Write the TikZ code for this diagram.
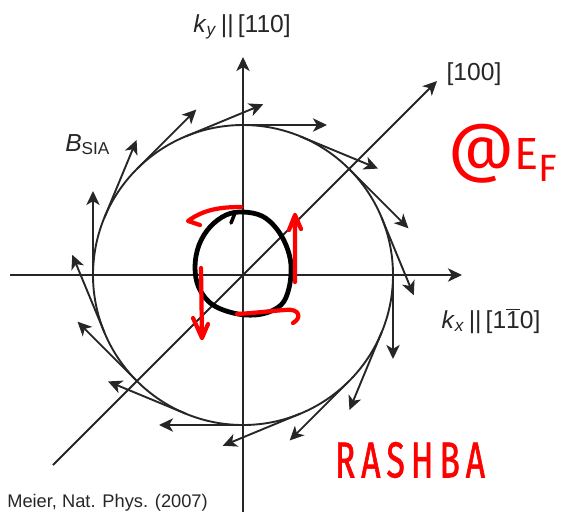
\documentclass[tikz,border=0pt]{standalone}
\usepackage{fontspec}
\setmainfont{Liberation Sans}
\newfontfamily\penfont{Fira Sans}
\usetikzlibrary{arrows.meta}
\definecolor{ink}{HTML}{262626}
\definecolor{pen}{HTML}{FF0000}

\begin{document}
\begin{tikzpicture}[x=0.025cm, y=-0.025cm,
  axis/.style={draw=ink, line width=1.35pt},
  vec/.style={draw=ink, line width=1.35pt, -{Stealth[length=10pt,width=9.5pt,inset=2.8pt]}},
  lbl/.style={text=ink, font=\fontsize{17.5}{19}\selectfont, inner sep=0pt},
  blob/.style={draw=black, line width=3.4pt, line cap=round},
  redpen/.style={draw=pen, line width=3pt, line cap=round, line join=round}]
  \useasboundingbox (0,0) rectangle (564,516);
  \coordinate (O) at (243,275);
  \coordinate (ybot) at (243,512);
  \coordinate (ytop) at (243,57);
  \coordinate (xleft) at (10,275);
  \coordinate (xright) at (462,275);
  \coordinate (dlow) at (53,465);
  \coordinate (dhigh) at (437,81);
  % axes and Fermi circle
  \draw[vec] (ybot) -- (ytop);
  \draw[vec] (xleft) -- (xright);
  \draw[vec] (dlow) -- (dhigh);
  \draw[axis] (O) circle[radius=150];
  % field vectors
  \begin{scope}[shift={(O)}, yscale=-1]
    \foreach \a in {0,22.5,...,337.5}
      \draw[vec] (\a:150) -- ++(\a-90:84);
  \end{scope}
  % labels
  \node[lbl, anchor=base] (kylbl) at (242,32) {\textit{k}\textsubscript{\textit{y}}\,||\,[110]};
  \node[lbl, anchor=base] (dlbl) at (474,80) {[100]};
  \node[lbl, anchor=base] (kxlbl) at (491,328) {\textit{k}\textsubscript{\textit{x}}\,||\,[1$\overline{\mbox{1}}$0]};
  \node[lbl, anchor=base west] (blbl) at (65,151) {\textit{B}\textsubscript{SIA}};
  \node[text=ink, font=\fontsize{13}{15}\selectfont, inner sep=0pt, anchor=base west] (ref) at (7,507) {Meier, Nat. Phys. (2007)};
  % hand drawn contour
  \draw[blob] plot[smooth cycle, tension=0.6] coordinates {(243,212) (262,216) (276,228) (286,245) (291,265) (289,288) (281,305) (262,314) (238,314) (213,305) (199,288) (195,267) (199,245) (210,227) (226,215)};
  \draw[blob, line width=2.5pt] (235,213) -- (231,223);
  \draw[redpen] (241,207) .. controls (222,207) and (204,209) .. (188,221) -- (200,225);
  \draw[redpen] (295,282) -- (295,215) (289,230) -- (295,215) -- (301,229);
  \draw[redpen] (237,314) .. controls (255,313) and (270,311) .. (285,310) .. controls (300,308) and (302,318) .. (293,323);
  \draw[redpen] (201,268) -- (202,338) (193,318) -- (202,338) -- (208,324);
  % notes
  \node[text=pen, inner sep=0pt] (ef) at (503,154) {\penfont\fontsize{46}{46}\selectfont @\fontsize{32}{32}\selectfont E\raisebox{-8pt}{\fontsize{27}{27}\selectfont F}};
  \node[text=pen, inner sep=0pt] (rashba) at (410,460) {\penfont\addfontfeatures{FakeStretch=0.66,LetterSpace=12,FakeBold=1.2}\fontsize{36}{36}\selectfont RASHBA};
\end{tikzpicture}
\end{document}
